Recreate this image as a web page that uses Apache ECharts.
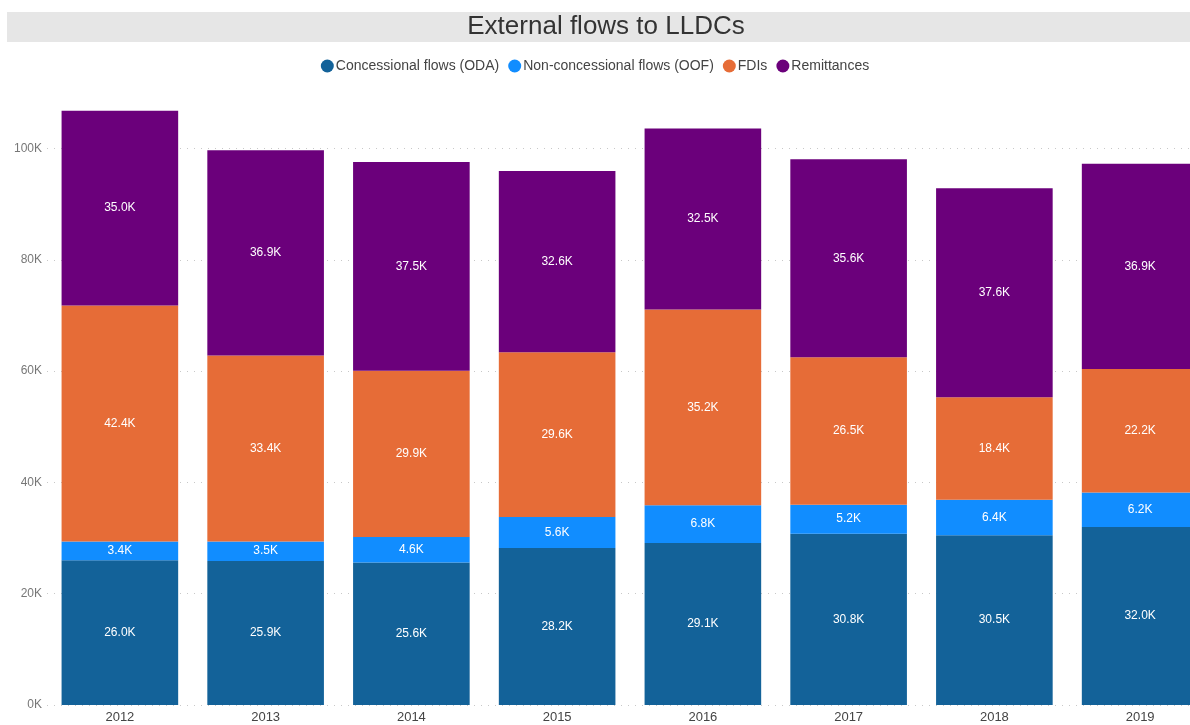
<!DOCTYPE html>
<html>
<head>
<meta charset="utf-8">
<script src="https://cdn.jsdelivr.net/npm/echarts@6/dist/echarts.min.js"></script>
<style>
  html, body { margin: 0; padding: 0; background: #fff; }
  #chart { width: 1190px; height: 725px; }
</style>
</head>
<body>
<div id="chart"></div>
<script>
const years = ["2012", "2013", "2014", "2015", "2016", "2017", "2018", "2019"];
const oda = [26000, 25900, 25600, 28200, 29100, 30800, 30500, 32000];
const oof = [3400, 3500, 4600, 5600, 6800, 5200, 6400, 6200];
const fdi = [42400, 33400, 29900, 29600, 35200, 26500, 18400, 22200];
const remittances = [35000, 36900, 37500, 32600, 32500, 35600, 37600, 36900];

const font = "Liberation Sans, Arial, sans-serif";
const myChart = echarts.init(document.getElementById("chart"));

// one stacked bar series per flow type
const makeSeries = (name, data, color) => ({
  name: name,
  type: "bar",
  stack: "total",
  barCategoryGap: "20%",
  data: data,
  itemStyle: { color: color },
  label: {
    show: true,
    position: "inside",
    color: "#ffffff",
    fontSize: 12,
    fontFamily: font,
    formatter: (p) => (p.value / 1000).toFixed(1) + "K",
  },
});

const options = {
  animation: false,
  graphic: [
    {
      type: "rect",
      z: -1,
      shape: { x: 7, y: 12, width: 1190, height: 30 },
      style: { fill: "#e6e6e6" },
    },
  ],
  title: {
    text: "External flows to LLDCs",
    left: 606,
    textAlign: "center",
    top: 14,
    padding: 0,
    textStyle: { fontSize: 26, fontWeight: "normal", color: "#333333", fontFamily: font },
  },
  legend: {
    left: "center",
    top: 54,
    padding: [5, 0, 5, 16],
    icon: "circle",
    itemWidth: 13,
    itemHeight: 13,
    itemGap: 9,
    textStyle: { fontSize: 14, color: "#444444", fontFamily: font, padding: [0, 0, 0, -3] },
  },
  grid: { left: 47, top: 93, width: 1166, bottom: 20, outerBoundsMode: "none" },
  xAxis: {
    type: "category",
    data: years,
    axisLine: { show: false },
    axisTick: { show: false },
    axisLabel: { color: "#444444", fontSize: 13, fontFamily: font, margin: 6 },
  },
  yAxis: {
    type: "value",
    min: 0,
    max: 110000,
    interval: 20000,
    axisLine: { show: false },
    axisTick: { show: false },
    axisLabel: {
      color: "#777777",
      fontSize: 12,
      fontFamily: font,
      margin: 5,
      showMaxLabel: false,
      formatter: (v) => v / 1000 + "K",
    },
    splitLine: {
      showMaxLine: false,
      lineStyle: { color: "#c8c8c8", type: [1, 6], width: 1 },
    },
  },
  series: [
    makeSeries("Concessional flows (ODA)", oda, "#136299"),
    makeSeries("Non-concessional flows (OOF)", oof, "#118dff"),
    makeSeries("FDIs", fdi, "#e66c37"),
    makeSeries("Remittances", remittances, "#6b007b"),
  ],
};
myChart.setOption(options);
</script>
</body>
</html>
